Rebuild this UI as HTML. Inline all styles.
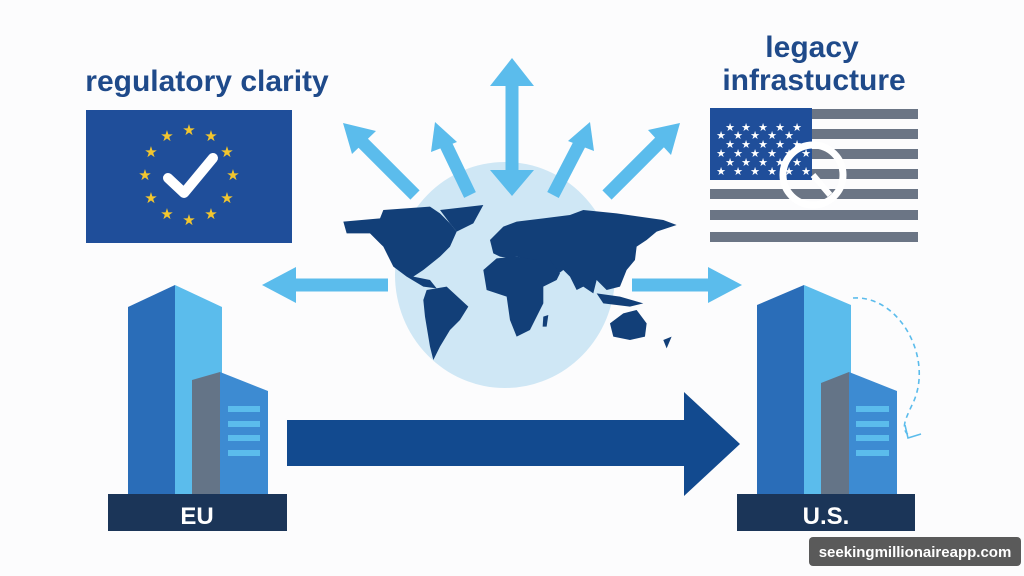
<!DOCTYPE html>
<html><head><meta charset="utf-8"><style>
html,body{margin:0;padding:0;background:#fdfdfe}
svg{display:block}
</style></head><body>
<svg width="1024" height="576" viewBox="0 0 1024 576" xmlns="http://www.w3.org/2000/svg">
<rect width="1024" height="576" fill="#fcfcfd"/>
<!-- titles -->
<text x="207" y="91" text-anchor="middle" font-family="Liberation Sans, sans-serif" font-weight="bold" font-size="30" fill="#1f4a8a">regulatory clarity</text>
<text x="812" y="57" text-anchor="middle" font-family="Liberation Sans, sans-serif" font-weight="bold" font-size="30" fill="#1f4a8a">legacy</text>
<text x="814" y="90" text-anchor="middle" font-family="Liberation Sans, sans-serif" font-weight="bold" font-size="30" fill="#1f4a8a">infrastucture</text>

<!-- EU flag -->
<rect x="86" y="110" width="206" height="133" fill="#1f4e9a"/>
<g fill="#f2c62f" font-family="DejaVu Sans, sans-serif" font-size="15" text-anchor="middle">
<text x="189" y="135">★</text><text x="211" y="141">★</text><text x="227" y="157">★</text><text x="233" y="180">★</text><text x="227" y="203">★</text><text x="211" y="219">★</text><text x="189" y="225">★</text><text x="167" y="219">★</text><text x="151" y="203">★</text><text x="145" y="180">★</text><text x="151" y="157">★</text><text x="167" y="141">★</text>
</g>
<polyline points="168,178 184,193 213,158" fill="none" stroke="#fff" stroke-width="10" stroke-linecap="round" stroke-linejoin="round"/>

<!-- US flag -->
<g fill="#6b7585">
<rect x="710" y="109" width="208" height="10"/><rect x="710" y="129" width="208" height="10"/><rect x="710" y="149" width="208" height="10"/><rect x="710" y="169" width="208" height="10"/><rect x="710" y="189" width="208" height="10"/><rect x="710" y="210" width="208" height="10"/><rect x="710" y="232" width="208" height="10"/>
</g>
<rect x="710" y="108" width="102" height="72" fill="#1f4e9a"/>
<g fill="#fff" font-family="DejaVu Sans, sans-serif" font-size="11" text-anchor="middle">
<text x="730" y="131">★</text><text x="746" y="131">★</text><text x="763" y="131">★</text><text x="780" y="131">★</text><text x="797" y="131">★</text>
<text x="721" y="139">★</text><text x="738" y="139">★</text><text x="755" y="139">★</text><text x="772" y="139">★</text><text x="789" y="139">★</text>
<text x="730" y="148">★</text><text x="746" y="148">★</text><text x="763" y="148">★</text><text x="780" y="148">★</text><text x="797" y="148">★</text>
<text x="721" y="157">★</text><text x="738" y="157">★</text><text x="755" y="157">★</text><text x="772" y="157">★</text><text x="789" y="157">★</text><text x="806" y="157">★</text>
<text x="730" y="166">★</text><text x="746" y="166">★</text><text x="763" y="166">★</text><text x="780" y="166">★</text><text x="797" y="166">★</text>
<text x="721" y="175">★</text><text x="738" y="175">★</text><text x="755" y="175">★</text><text x="772" y="175">★</text><text x="789" y="175">★</text><text x="806" y="175">★</text>
</g>
<circle cx="813" cy="175" r="30" fill="none" stroke="#fff" stroke-width="7"/>
<line x1="813" y1="175" x2="830" y2="195" stroke="#fff" stroke-width="6"/>

<!-- globe -->
<ellipse cx="505" cy="275" rx="110" ry="113" fill="#cfe7f5"/>
<g transform="translate(330,160) scale(0.3333)" fill="#123f78">
<polygon points="40,185 150,175 160,150 300,140 330,160 360,190 380,215 360,260 330,290 280,330 250,350 300,360 320,385 280,380 230,350 190,320 160,260 120,220 50,220"/>
<polygon points="330,150 460,135 430,190 380,215 360,190"/>
<polygon points="290,390 350,380 415,440 390,480 360,510 330,560 310,600 300,560 285,470 280,420"/>
<polygon points="480,240 520,200 560,185 640,175 720,165 760,150 860,160 1000,180 1040,195 980,215 950,240 920,260 915,300 890,330 870,380 830,390 800,360 790,400 760,380 740,390 720,350 700,330 680,345 650,330 630,305 600,300 560,290 540,295 510,290 490,280"/>
<polygon points="460,330 500,295 560,290 620,300 660,300 690,340 680,360 640,380 640,430 600,510 560,530 540,480 530,410 470,390"/>
<polygon points="640,470 655,465 650,500 638,500"/>
<polygon points="800,400 870,410 940,430 900,440 820,430"/>
<polygon points="840,490 880,460 920,450 950,490 945,530 900,540 850,530"/>
<polygon points="1000,540 1025,530 1010,565"/>
</g>

<!-- rays -->
<g stroke="#5bbcec" stroke-width="13" fill="none">
<line x1="512" y1="85" x2="512" y2="175"/>
<line x1="415" y1="195" x2="362" y2="142"/>
<line x1="470" y1="195" x2="445" y2="143"/>
<line x1="553" y1="195" x2="580" y2="143"/>
<line x1="607" y1="195" x2="660" y2="142"/>
<line x1="388" y1="285" x2="292" y2="285"/>
<line x1="632" y1="285" x2="712" y2="285"/>
</g>
<g fill="#5bbcec">
<polygon points="512,58 490,86 534,86"/>
<polygon points="512,196 490,170 534,170"/>
<polygon points="343,123 376,131 352,154"/>
<polygon points="435,122 457,142 431,152"/>
<polygon points="590,122 594,151 568,141"/>
<polygon points="680,123 671,155 648,130"/>
<polygon points="262,285 296,267 296,303"/>
<polygon points="742,285 708,267 708,303"/>
</g>

<!-- big arrow -->
<polygon points="287,420 684,420 684,392 740,444 684,496 684,466 287,466" fill="#124a8f"/>

<!-- EU building -->
<polygon points="128,307 175,285 175,494 128,494" fill="#2a6db8"/>
<polygon points="175,285 222,307 222,494 175,494" fill="#5bbcec"/>
<polygon points="192,380 220,372 220,494 192,494" fill="#647487"/>
<polygon points="220,372 268,391 268,494 220,494" fill="#3d8bd2"/>
<g fill="#5bbcec"><rect x="228" y="406" width="32" height="6"/><rect x="228" y="421" width="32" height="6"/><rect x="228" y="435" width="32" height="6"/><rect x="228" y="450" width="32" height="6"/></g>
<rect x="108" y="494" width="179" height="37" fill="#1b3558"/>
<text x="197" y="524" text-anchor="middle" font-family="Liberation Sans, sans-serif" font-weight="bold" font-size="24" fill="#fff">EU</text>

<!-- US building -->
<polygon points="757,305 804,285 804,494 757,494" fill="#2a6db8"/>
<polygon points="804,285 851,305 851,494 804,494" fill="#5bbcec"/>
<polygon points="821,383 849,372 849,494 821,494" fill="#647487"/>
<polygon points="849,372 897,391 897,494 849,494" fill="#3d8bd2"/>
<g fill="#5bbcec"><rect x="856" y="406" width="33" height="6"/><rect x="856" y="421" width="33" height="6"/><rect x="856" y="435" width="33" height="6"/><rect x="856" y="450" width="33" height="6"/></g>
<rect x="737" y="494" width="178" height="37" fill="#1b3558"/>
<text x="826" y="524" text-anchor="middle" font-family="Liberation Sans, sans-serif" font-weight="bold" font-size="24" fill="#fff">U.S.</text>

<!-- dashed curve -->
<path d="M853,298 C900,295 935,360 912,405 C905,420 900,430 910,436" fill="none" stroke="#5bbcec" stroke-width="1.6" stroke-dasharray="5,4"/>
<path d="M905,425 L908,438 L921,434" fill="none" stroke="#5bbcec" stroke-width="1.6"/>

<!-- watermark -->
<rect x="809" y="537" width="212" height="29" rx="4" fill="#5a5a5a"/>
<text x="915" y="557" text-anchor="middle" font-family="Liberation Sans, sans-serif" font-weight="bold" font-size="15" fill="#fff">seekingmillionaireapp.com</text>
</svg>
</body></html>
